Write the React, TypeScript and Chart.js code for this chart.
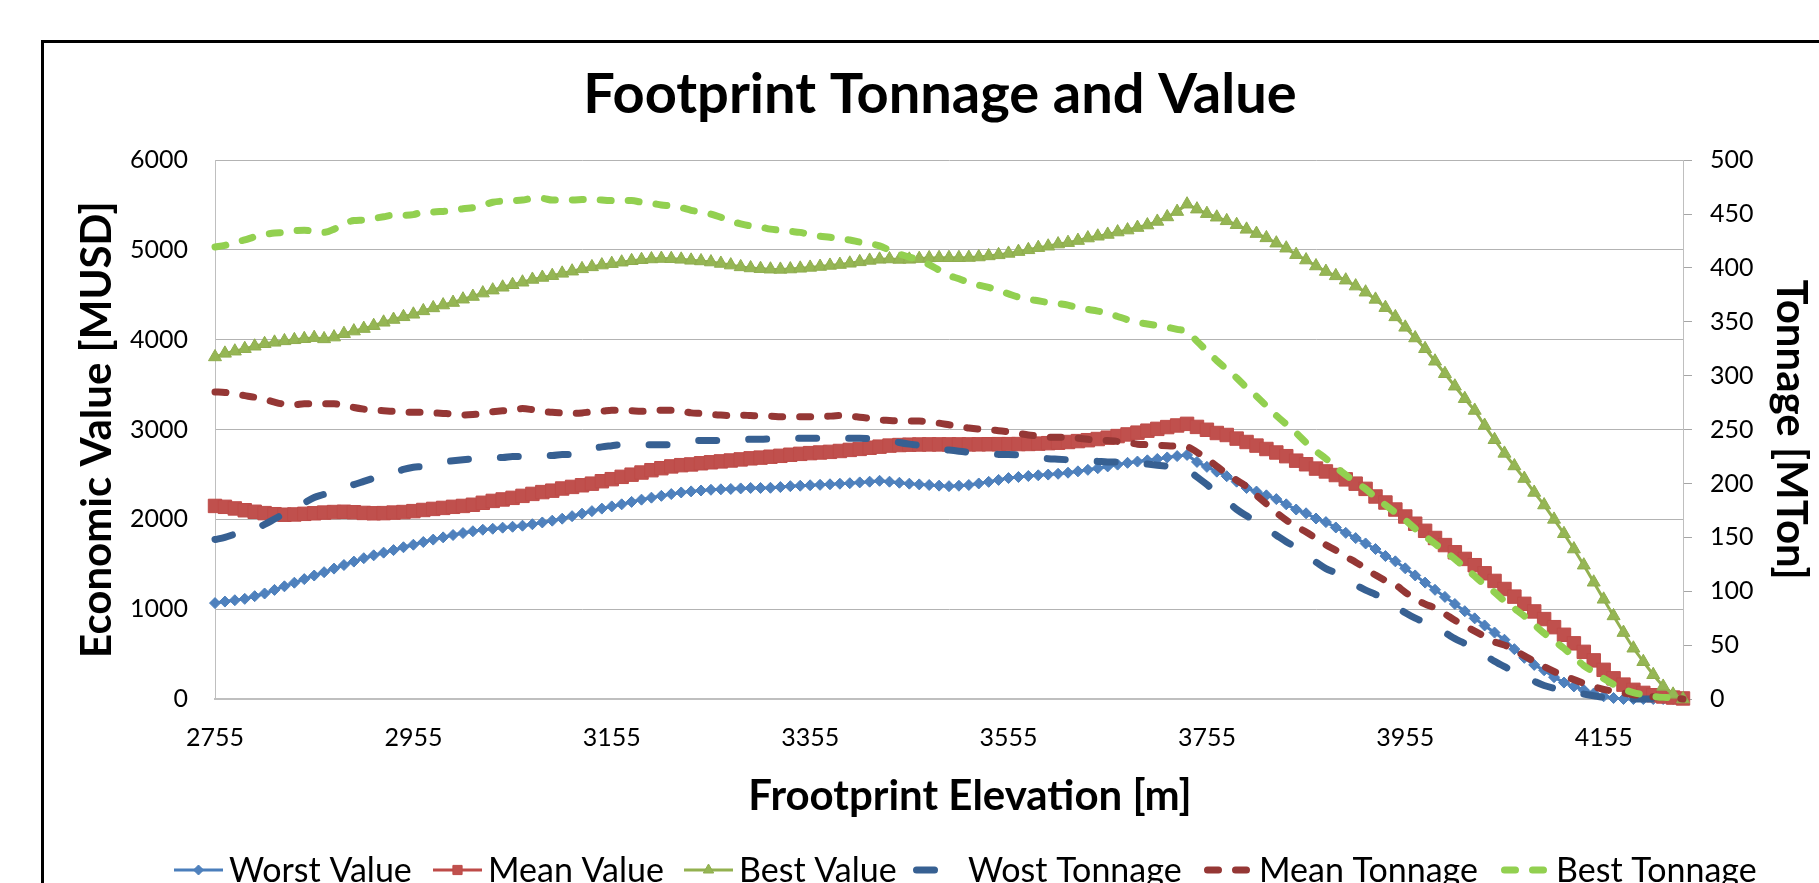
import React, { useEffect, useRef } from 'react';
import { Chart, registerables } from 'chart.js';
import { drawPoint } from 'chart.js/helpers';

Chart.register(...registerables);

// ---------------- data ----------------
const elevations = [
  2755, 2765, 2775, 2785, 2795, 2805, 2815, 2825, 2835, 2845,
  2855, 2865, 2875, 2885, 2895, 2905, 2915, 2925, 2935, 2945,
  2955, 2965, 2975, 2985, 2995, 3005, 3015, 3025, 3035, 3045,
  3055, 3065, 3075, 3085, 3095, 3105, 3115, 3125, 3135, 3145,
  3155, 3165, 3175, 3185, 3195, 3205, 3215, 3225, 3235, 3245,
  3255, 3265, 3275, 3285, 3295, 3305, 3315, 3325, 3335, 3345,
  3355, 3365, 3375, 3385, 3395, 3405, 3415, 3425, 3435, 3445,
  3455, 3465, 3475, 3485, 3495, 3505, 3515, 3525, 3535, 3545,
  3555, 3565, 3575, 3585, 3595, 3605, 3615, 3625, 3635, 3645,
  3655, 3665, 3675, 3685, 3695, 3705, 3715, 3725, 3735, 3745,
  3755, 3765, 3775, 3785, 3795, 3805, 3815, 3825, 3835, 3845,
  3855, 3865, 3875, 3885, 3895, 3905, 3915, 3925, 3935, 3945,
  3955, 3965, 3975, 3985, 3995, 4005, 4015, 4025, 4035, 4045,
  4055, 4065, 4075, 4085, 4095, 4105, 4115, 4125, 4135, 4145,
  4155, 4165, 4175, 4185, 4195, 4205, 4215, 4225, 4235,
];

const xTickLabels = ['2755', '2955', '3155', '3355', '3555', '3755', '3955', '4155'];

const worstValue = [
  1068, 1085, 1100, 1115, 1145, 1175, 1215, 1255, 1295, 1335,
  1375, 1412, 1452, 1492, 1530, 1568, 1600, 1630, 1658, 1690,
  1718, 1748, 1775, 1800, 1826, 1848, 1868, 1885, 1896, 1908,
  1918, 1930, 1946, 1966, 1986, 2008, 2036, 2064, 2092, 2120,
  2145, 2168, 2195, 2220, 2242, 2262, 2282, 2300, 2312, 2322,
  2330, 2335, 2339, 2345, 2350, 2350, 2352, 2360, 2370, 2375,
  2380, 2385, 2391, 2397, 2403, 2412, 2420, 2430, 2420, 2408,
  2398, 2390, 2383, 2376, 2370, 2375, 2383, 2400, 2418, 2440,
  2460, 2472, 2483, 2491, 2499, 2508, 2520, 2535, 2552, 2570,
  2590, 2610, 2630, 2644, 2658, 2673, 2690, 2705, 2718, 2640,
  2585, 2532, 2481, 2420, 2350, 2310, 2268, 2226, 2168, 2110,
  2068, 2010, 1970, 1910, 1850, 1792, 1732, 1670, 1592, 1533,
  1455, 1376, 1296, 1216, 1137, 1058, 978, 898, 819, 740,
  660, 555, 458, 380, 320, 243, 183, 140, 100, 62,
  30, 11, 0, 0, 0, 0, 0, 0, 0,
];

const meanValue = [
  2150, 2140, 2122, 2102, 2085, 2070, 2058, 2052, 2055, 2062,
  2068, 2076, 2082, 2085, 2080, 2072, 2068, 2070, 2076, 2082,
  2092, 2105, 2117, 2128, 2140, 2150, 2163, 2185, 2206, 2222,
  2240, 2262, 2284, 2304, 2320, 2344, 2362, 2380, 2398, 2425,
  2448, 2474, 2498, 2522, 2548, 2570, 2590, 2604, 2612, 2625,
  2636, 2646, 2656, 2668, 2680, 2688, 2698, 2708, 2720, 2730,
  2738, 2745, 2752, 2762, 2774, 2785, 2798, 2810, 2822, 2828,
  2832, 2834, 2835, 2835, 2835, 2835, 2835, 2836, 2837, 2838,
  2838, 2839, 2840, 2844, 2849, 2854, 2862, 2872, 2882, 2895,
  2910, 2928, 2946, 2966, 2988, 3008, 3028, 3046, 3064, 3030,
  2998, 2962, 2940, 2900, 2862, 2822, 2784, 2745, 2704, 2654,
  2614, 2566, 2534, 2494, 2446, 2398, 2340, 2255, 2188, 2110,
  2032, 1952, 1873, 1793, 1714, 1634, 1560, 1490, 1400, 1315,
  1225, 1140, 1060, 975, 890, 800, 715, 620, 525, 430,
  325, 230, 160, 102, 68, 42, 28, 16, 6,
];

const bestValue = [
  3809, 3849, 3873, 3901, 3928, 3956, 3972, 3988, 4000, 4012,
  4024, 4010, 4030, 4068, 4097, 4125, 4157, 4195, 4226, 4256,
  4284, 4322, 4355, 4387, 4415, 4452, 4482, 4520, 4553, 4585,
  4613, 4641, 4672, 4694, 4714, 4740, 4764, 4790, 4812, 4832,
  4848, 4864, 4880, 4892, 4900, 4905, 4903, 4896, 4885, 4878,
  4866, 4850, 4832, 4812, 4800, 4792, 4786, 4784, 4788, 4796,
  4806, 4816, 4828, 4838, 4852, 4868, 4884, 4896, 4900, 4895,
  4896, 4904, 4912, 4914, 4914, 4914, 4916, 4922, 4934, 4946,
  4962, 4982, 5002, 5026, 5042, 5066, 5082, 5105, 5133, 5153,
  5173, 5200, 5222, 5250, 5278, 5318, 5368, 5428, 5510, 5455,
  5405, 5365, 5325, 5282, 5230, 5183, 5135, 5076, 5020, 4948,
  4888, 4822, 4760, 4712, 4664, 4598, 4530, 4450, 4358, 4255,
  4139, 4020, 3900, 3761, 3622, 3483, 3344, 3213, 3046, 2887,
  2735, 2595, 2455, 2300, 2160, 2000, 1840, 1670, 1490, 1300,
  1110, 925, 740, 565, 415, 270, 140, 52, 0,
];

const worstTonnage = [
  148, 150, 153, 156, 158, 162, 167, 172, 177, 182,
  187, 190, 194, 197, 199, 202, 205, 208, 210, 213,
  215, 216, 218, 220, 221, 222, 223, 224, 224, 224,
  225, 225, 226, 226, 226, 227, 227, 229, 232, 234,
  235, 236, 236, 236, 236, 236, 236, 237, 239, 240,
  240, 240, 240, 240.5, 241, 241, 241.5, 242, 242, 242,
  242, 242, 242, 242, 242, 242, 241.5, 241, 240, 238,
  236.5, 235.5, 234, 232, 231, 230, 229, 228.5, 228, 227,
  227, 226.5, 225.5, 224, 223, 222.5, 222, 221.5, 221, 220.5,
  220, 220, 219.5, 219, 218, 217, 216, 215, 213, 206,
  199, 191, 184, 176, 170, 164.5, 158, 152, 146, 140.5,
  133, 127, 121, 117, 112, 106, 101, 97, 92.5, 86,
  80, 75, 71, 66, 61.5, 56, 51.5, 46.5, 41, 35,
  30, 25.5, 21, 16.5, 12.5, 10, 8, 6, 4.5, 3,
  1.5, 0.5, 0, 0, 0, 0, 0, 0, 0,
];

const meanTonnage = [
  285, 284.5, 283, 281.5, 280, 278, 275.5, 273.5, 273, 274,
  274, 274, 274, 272.5, 270.5, 269, 268, 267.5, 267, 266,
  266, 266, 265.5, 265, 264.5, 263.5, 264, 265, 266.5, 267.5,
  268, 269.5, 268.5, 267, 266, 265.5, 265, 265.5, 266.5, 267,
  268, 268, 267.5, 267, 267.5, 268, 268, 267.5, 265.5, 265,
  264, 263.5, 263, 263.5, 263, 262.5, 262.5, 262, 262, 262,
  262, 262, 262.5, 263, 262.5, 261.5, 260.5, 259, 258.5, 258,
  258, 258, 257, 256, 254.5, 253, 251.5, 250.5, 250, 249,
  248, 246.5, 245, 244, 243, 243, 243, 242, 241, 240,
  240, 239, 238, 236.5, 236, 235.5, 235, 234.5, 234, 229,
  223, 216, 209, 203, 197, 189, 181, 173, 166, 160,
  155, 149, 143, 138, 132, 127, 121, 115, 110, 106,
  99, 93, 88, 84.5, 79, 73, 68, 63, 58, 53,
  50, 45.5, 40, 35, 30, 25.5, 21.5, 18, 14.5, 11.5,
  9, 7, 5.5, 4, 3, 2, 1.5, 1, 0,
];

const bestTonnage = [
  419.5, 421, 424, 426, 429, 431, 432.5, 433, 434.5, 435,
  434, 433, 436, 441, 444, 444.5, 446, 447.5, 449, 449,
  449.5, 452, 452, 452.5, 453, 455, 456, 458, 461, 462,
  462.5, 463, 464.5, 464.5, 463, 463, 463, 463.5, 464, 463,
  462.5, 462.5, 462.5, 461, 460, 458.5, 457.5, 456, 453.5, 452,
  450, 447, 443.5, 441, 439, 438, 436, 435, 434, 433,
  431, 429.5, 428.5, 427, 426, 424, 422.5, 420.5, 416.5, 413,
  410, 407.5, 403, 398, 393, 390, 386.5, 384, 382, 379,
  376, 373, 371, 369.5, 368, 367, 365.5, 363, 361.5, 360,
  358, 355, 352, 349.5, 348, 346.5, 345, 343, 341, 332,
  323, 314, 306, 298, 289, 281, 272, 263, 255, 247,
  238, 230, 223, 215, 208, 201, 195, 187, 180, 173,
  166, 158, 151, 144, 137, 130, 122, 114, 106, 99,
  91, 84, 77, 69, 61, 54, 47, 39, 31, 25,
  19, 13.5, 9, 6, 4, 2.5, 1.5, 1, 0,
];

const seriesLabels = ['Worst Value', 'Mean Value', 'Best Value', 'Wost Tonnage', 'Mean Tonnage', 'Best Tonnage'];
const chartTitle = 'Footprint Tonnage and Value';
const xAxisTitle = 'Frootprint Elevation [m]';
const yAxisTitle = 'Economic Value [MUSD]';
const y2AxisTitle = 'Tonnage [MTon]';

// ---------------- layout / style ----------------
const FONT = 'Lato, "Open Sans", sans-serif';
const CANVAS_W = 1880;
const CANVAS_H = 883;

const LEGEND_X = [174, 433, 684, 913, 1204, 1501];
const LEGEND_SAMPLE_W = 49;
const LEGEND_TEXT_GAP = 6;
const LEGEND_LINE_Y = 870;
const LEGEND_BASELINE = 882;
const LEGEND_FONT_SIZE = 34;
const LEGEND_MARKER_R = [5, 6.5, 6, 0, 0, 0];
const LEGEND_LINE_W = [3, 3, 3, 7, 7, 7];

const toXY = (vals: number[]) => vals.map((v, i) => ({ x: elevations[i], y: v }));

const overlayPlugin = {
  id: 'excelOverlay',
  afterDraw(chart: any) {
    const ctx = chart.ctx;
    ctx.save();
    ctx.fillStyle = '#000';
    ctx.font = `bold 42px ${FONT}`;
    ctx.textAlign = 'center';
    ctx.textBaseline = 'alphabetic';
    ctx.fillText(xAxisTitle, 970, 810);

    chart.data.datasets.forEach((ds: any, i: number) => {
      const x0 = LEGEND_X[i];
      const y = LEGEND_LINE_Y;
      ctx.save();
      ctx.strokeStyle = ds.borderColor;
      ctx.lineWidth = LEGEND_LINE_W[i];
      const round = ds.borderCapStyle === 'round';
      ctx.lineCap = round ? 'round' : 'butt';
      ctx.setLineDash(ds.borderDash || []);
      const inset = round ? LEGEND_LINE_W[i] / 2 : 0;
      ctx.beginPath();
      ctx.moveTo(x0 + inset, y);
      ctx.lineTo(x0 + LEGEND_SAMPLE_W - inset, y);
      ctx.stroke();
      if (LEGEND_MARKER_R[i] > 0) {
        ctx.setLineDash([]);
        ctx.fillStyle = ds.pointBackgroundColor;
        ctx.strokeStyle = ds.pointBorderColor;
        ctx.lineWidth = 1;
        drawPoint(ctx, { pointStyle: ds.pointStyle, radius: LEGEND_MARKER_R[i], borderWidth: 1, rotation: 0 } as any,
          x0 + LEGEND_SAMPLE_W / 2, y);
      }
      ctx.restore();
      ctx.fillStyle = '#000';
      ctx.font = `${LEGEND_FONT_SIZE}px ${FONT}`;
      ctx.textAlign = 'left';
      ctx.textBaseline = 'alphabetic';
      ctx.fillText(ds.label, x0 + LEGEND_SAMPLE_W + LEGEND_TEXT_GAP, LEGEND_BASELINE);
    });
    ctx.restore();
  },
};

export default function App() {
  const ref = useRef<HTMLCanvasElement>(null);

  useEffect(() => {
    if (!ref.current) return;
    const tickFont = { family: FONT, size: 25 };
    const chart = new Chart(ref.current, {
      type: 'line',
      data: {
        datasets: [
          {
            label: seriesLabels[0], data: toXY(worstValue), yAxisID: 'y', order: 6,
            borderColor: '#4A7EBB', borderWidth: 3, pointStyle: 'rectRot', pointRadius: 5.5,
            pointBackgroundColor: '#4F81BD', pointBorderColor: '#4A7EBB', pointBorderWidth: 1,
          },
          {
            label: seriesLabels[1], data: toXY(meanValue), yAxisID: 'y', order: 5,
            borderColor: '#BE4B48', borderWidth: 3, pointStyle: 'rect', pointRadius: 9.5,
            pointBackgroundColor: '#C0504D', pointBorderColor: '#BE4B48', pointBorderWidth: 1,
          },
          {
            label: seriesLabels[2], data: toXY(bestValue), yAxisID: 'y', order: 4,
            borderColor: '#93B150', borderWidth: 3, pointStyle: 'triangle', pointRadius: 7.5,
            pointBackgroundColor: '#95B654', pointBorderColor: '#8FAD4E', pointBorderWidth: 1,
          },
          {
            label: seriesLabels[3], data: toXY(worstTonnage), yAxisID: 'y1', order: 3,
            borderColor: '#376092', borderWidth: 7, borderDash: [18, 32], borderCapStyle: 'round',
            borderJoinStyle: 'round', pointRadius: 0, cubicInterpolationMode: 'monotone',
          },
          {
            label: seriesLabels[4], data: toXY(meanTonnage), yAxisID: 'y1', order: 2,
            borderColor: '#953735', borderWidth: 7, borderDash: [11, 17], borderCapStyle: 'round',
            borderJoinStyle: 'round', pointRadius: 0, cubicInterpolationMode: 'monotone',
          },
          {
            label: seriesLabels[5], data: toXY(bestTonnage), yAxisID: 'y1', order: 1,
            borderColor: '#92D050', borderWidth: 7, borderDash: [11, 17], borderCapStyle: 'round',
            borderJoinStyle: 'round', pointRadius: 0, cubicInterpolationMode: 'monotone',
          },
        ] as any,
      },
      options: {
        responsive: false,
        maintainAspectRatio: false,
        animation: false,
        devicePixelRatio: 1,
        events: [],
        layout: { padding: 0 },
        datasets: { line: { clip: false as any } } as any,
        plugins: {
          legend: { display: false },
          tooltip: { enabled: false },
          title: {
            display: true,
            text: chartTitle,
            color: '#000',
            fullSize: true,
            font: { family: FONT, size: 56, weight: 'bold' },
            padding: { top: 61, bottom: 32 },
          },
        },
        scales: {
          x: {
            type: 'linear',
            min: elevations[0],
            max: elevations[elevations.length - 1],
            afterBuildTicks: (s: any) => { s.ticks = xTickLabels.map((t) => ({ value: Number(t) })); },
            afterFit: (s: any) => { s.height = 184; },
            ticks: {
              autoSkip: false, maxRotation: 0, minRotation: 0, padding: 24,
              color: '#000', font: tickFont,
              callback: (v: any) => String(v),
            },
            grid: { display: false, drawTicks: false },
            border: { display: true, color: '#BFBFBF', width: 2 },
          },
          y: {
            type: 'linear',
            position: 'left',
            min: 0, max: 6000,
            afterFit: (s: any) => { s.width = 215; },
            ticks: { stepSize: 1000, padding: 27, color: '#000', font: tickFont, callback: (v: any) => String(v) },
            grid: { color: '#B3B3B3', lineWidth: 1, drawTicks: false },
            border: { display: true, color: '#BFBFBF', width: 1 },
            title: {
              display: true, text: yAxisTitle, color: '#000',
              font: { family: FONT, size: 42, weight: 'bold' },
              padding: { top: 72, bottom: 0 },
            },
          },
          y1: {
            type: 'linear',
            position: 'right',
            min: 0, max: 500,
            afterFit: (s: any) => { s.width = CANVAS_W - 1683; },
            ticks: { stepSize: 50, padding: 18, color: '#000', font: tickFont, callback: (v: any) => String(v) },
            grid: { drawOnChartArea: false, drawTicks: true, tickLength: 9, color: '#A6A6A6' },
            border: { display: true, color: '#BFBFBF', width: 1 },
            title: {
              display: true, text: y2AxisTitle, color: '#000',
              font: { family: FONT, size: 42, weight: 'bold' },
              padding: { top: 64, bottom: 0 },
            },
          },
        } as any,
      },
      plugins: [overlayPlugin],
    });
    return () => chart.destroy();
  }, []);

  return (
    <div style={{ position: 'fixed', left: 0, top: 0, width: 1819, height: 883, overflow: 'hidden', background: '#fff' }}>
      <canvas
        ref={ref}
        width={CANVAS_W}
        height={CANVAS_H}
        style={{ position: 'absolute', left: 0, top: 0, width: CANVAS_W, height: CANVAS_H }}
      />
      <div
        style={{
          position: 'absolute', left: 41, top: 40, width: 2000, height: 2000,
          border: '3px solid #000', boxSizing: 'border-box', pointerEvents: 'none',
        }}
      />
    </div>
  );
}
